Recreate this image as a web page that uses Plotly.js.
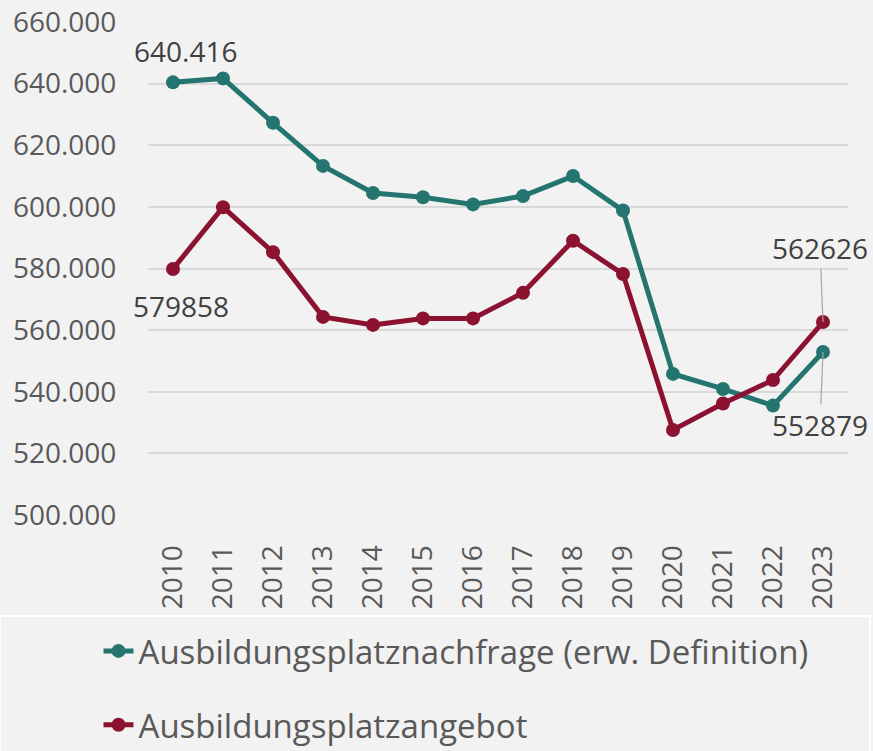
<!DOCTYPE html>
<html>
<head>
<meta charset="utf-8">
<script src="https://cdn.plot.ly/plotly-3.0.1.min.js"></script>
<style>html,body{margin:0;padding:0;background:#f2f2f2;}#chart{width:873px;height:751px;}</style>
</head>
<body>
<div id="chart"></div>
<script>
var years = ["2010","2011","2012","2013","2014","2015","2016","2017","2018","2019","2020","2021","2022","2023"];
var nachfrage = [640416, 641700, 627300, 613300, 604500, 603100, 600800, 603500, 610000, 598800, 545800, 540900, 535500, 552879];
var angebot = [579858, 599900, 585300, 564300, 561700, 563800, 563800, 572100, 589000, 578200, 527600, 536200, 543800, 562626];
var seriesNames = ["Ausbildungsplatznachfrage (erw. Definition)", "Ausbildungsplatzangebot"];
var yTicks = [500000, 520000, 540000, 560000, 580000, 600000, 620000, 640000, 660000];
var yTickText = ["500.000","520.000","540.000","560.000","580.000","600.000","620.000","640.000","660.000"];

var teal = "#24756f", red = "#8b1231";
var font = "'Open Sans', 'Noto Sans', sans-serif";

var traces = [
  {x: years, y: nachfrage, name: seriesNames[0], type: "scatter", mode: "lines+markers",
   line: {color: teal, width: 5}, marker: {color: teal, size: 14}, legendgroup: "a"},
  {x: years, y: angebot, name: seriesNames[1], type: "scatter", mode: "lines+markers",
   line: {color: red, width: 5}, marker: {color: red, size: 14}, legendgroup: "b"}
];

var fmtDot = function(v){ return String(v).replace(/\B(?=(\d{3})+(?!\d))/g, "."); };
var annFont = {family: font, size: 28, color: "#404040"};
var first = 0, last = years.length - 1;   // category indices

var layout = {
  width: 873, height: 751,
  paper_bgcolor: "#f2f2f2", plot_bgcolor: "#f2f2f2",
  margin: {l: 148, r: 25, t: 22, b: 236, autoexpand: false},
  font: {family: font, color: "#595959", size: 27},
  showlegend: true,
  legend: {orientation: "v", x: -0.0707, xanchor: "left", y: -0.219, yanchor: "top",
           font: {family: font, size: 33, color: "#595959"}, traceorder: "grouped",
           tracegroupgap: 28, bgcolor: "rgba(0,0,0,0)"},
  xaxis: {type: "category", range: [-0.5, 13.5], tickangle: -90, showgrid: false, zeroline: false,
          showline: false, ticks: "outside", ticklen: 18, tickcolor: "rgba(0,0,0,0)",
          tickfont: {family: font, size: 28, color: "#595959"}, fixedrange: true},
  yaxis: {range: [500000, 660000], tickvals: yTicks, ticktext: yTickText, showgrid: true,
          gridcolor: "#d9d9d9", gridwidth: 1.5, zeroline: false, showline: false,
          ticks: "outside", ticklen: 25, tickcolor: "rgba(0,0,0,0)",
          tickfont: {family: font, size: 28, color: "#595959"}, fixedrange: true},
  shapes: [
    {type: "rect", xref: "paper", yref: "paper", x0: -148/700, x1: 722/700,
     y0: -1.0, y1: -101/493, line: {color: "#ffffff", width: 2}, fillcolor: "rgba(0,0,0,0)", layer: "below"}
  ],
  annotations: [
    {x: first, y: nachfrage[first], text: fmtDot(nachfrage[first]), showarrow: false, xshift: 12, yshift: 31, font: annFont},
    {x: first, y: angebot[first], text: String(angebot[first]), showarrow: false, xshift: 8, yshift: -37, font: annFont},
    {x: last, y: angebot[last], text: String(angebot[last]), showarrow: true, arrowhead: 0,
     arrowwidth: 1.2, arrowcolor: "#a6a6a6", ax: -3, ay: -74, standoff: 0, font: annFont},
    {x: last, y: nachfrage[last], text: String(nachfrage[last]), showarrow: true, arrowhead: 0,
     arrowwidth: 1.2, arrowcolor: "#a6a6a6", ax: -3, ay: 73, standoff: 0, font: annFont}
  ]
};

Plotly.newPlot("chart", traces, layout, {displayModeBar: false});
</script>
</body>
</html>
